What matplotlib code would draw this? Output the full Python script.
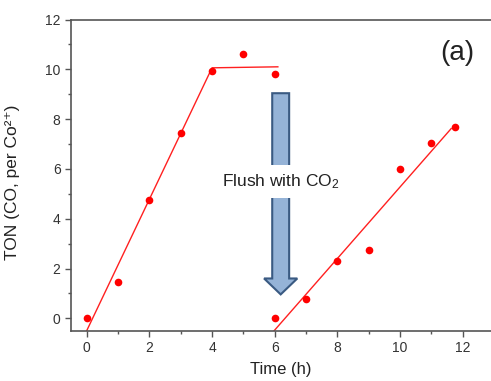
import matplotlib.pyplot as plt
from matplotlib.patches import FancyArrow
from matplotlib.ticker import MultipleLocator

plt.rcParams['font.family'] = ['Liberation Sans', 'DejaVu Sans']
plt.rcParams['mathtext.fontset'] = 'custom'
plt.rcParams['mathtext.rm'] = 'Liberation Sans'
plt.rcParams['mathtext.it'] = 'Liberation Sans:italic'

# Data from the chart
time_pts = [0, 1, 2, 3, 4, 5, 6, 6, 7, 8, 9, 10, 11, 11.75]
ton_pts = [0, 1.47, 4.75, 7.45, 9.95, 10.6, 9.8, 0, 0.78, 2.32, 2.74, 5.98, 7.03, 7.67]

# fitted lines (before and after flushing)
fit1_x = [0, 4, 6.1]
fit1_y = [-0.5, 10.06, 10.1]
fit2_x = [5.98, 11.63]
fit2_y = [-0.5, 7.62]

fig = plt.figure(figsize=(4.91, 3.81), dpi=100)
ax = fig.add_axes([0.1446, 0.1312, 0.8554, 0.8176])

ax.plot(fit1_x, fit1_y, color='#ff2020', lw=1.0, zorder=2)
ax.plot(fit2_x, fit2_y, color='#ff2020', lw=1.0, zorder=2)
ax.plot(time_pts, ton_pts, 'o', color='#ff0000', ms=5.5, mec='none', zorder=3, clip_on=False)

# flush arrow
arr = FancyArrow(6.19, 9.04, 0, -8.08, width=0.54, head_width=1.06, head_length=0.64,
                 length_includes_head=True, fc='#95b3d7', ec='#3a5a82', lw=1.5, zorder=4)
ax.add_patch(arr)
ax.text(6.2, 5.49, 'Flush with CO$_2$', ha='center', va='center', fontsize=12.5,
        color='#222222', zorder=5,
        bbox=dict(facecolor='white', edgecolor='none', pad=5))

ax.text(11.81, 10.65, '(a)', ha='center', va='center', fontsize=20, color='#222222')

ax.set_xlim(-0.5, 12.9)
ax.set_ylim(-0.51, 12)
ax.xaxis.set_major_locator(MultipleLocator(2))
ax.xaxis.set_minor_locator(MultipleLocator(1))
ax.yaxis.set_major_locator(MultipleLocator(2))
ax.yaxis.set_minor_locator(MultipleLocator(1))

for s in ['left', 'bottom', 'top']:
    ax.spines[s].set_color('#555555')
    ax.spines[s].set_linewidth(1.2)
ax.spines['right'].set_visible(False)
ax.tick_params(which='major', direction='out', length=4, width=1, color='#555555',
               labelsize=10, labelcolor='#333333')
ax.tick_params(which='minor', direction='out', length=2.5, width=1, color='#555555')

ax.set_xlabel('Time (h)', fontsize=12, color='#222222', labelpad=5)
ax.set_ylabel('TON (CO, per Co²⁺)', fontsize=12.5, color='#222222')
ax.yaxis.set_label_coords(-0.121, 0.478)

plt.savefig('out.png', dpi=100)
